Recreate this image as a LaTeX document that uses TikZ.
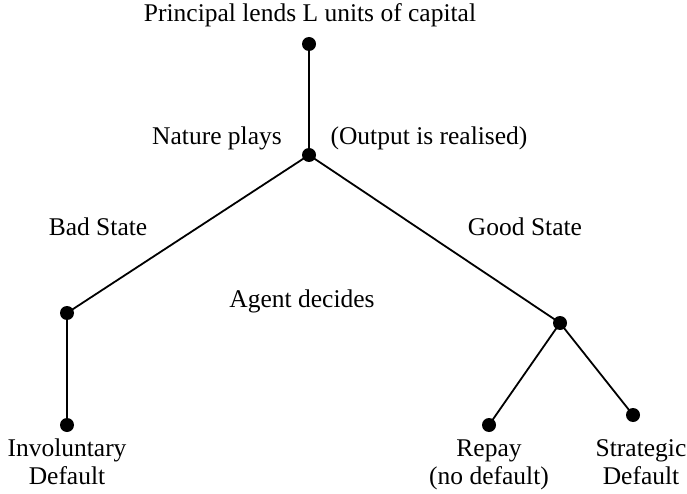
\documentclass[tikz,border=0pt]{standalone}
\usepackage{fontspec}
\setmainfont{Liberation Serif}
\begin{document}
\begin{tikzpicture}[x=1pt,y=-1pt,
  dot/.style={circle,fill=black,inner sep=0pt,minimum size=14pt},
  branch/.style={line width=1.8pt},
  lbl/.style={font=\fontsize{25.5}{27.5}\selectfont,inner sep=0pt,align=center,anchor=base}]
\useasboundingbox (0,0) rectangle (687,494);
% decision nodes
\node[dot] (root) at (309,44) {};
\node[dot] (nature) at (309,155) {};
\node[dot] (bad) at (67,313) {};
\node[dot] (good) at (560,323) {};
\node[dot] (invol) at (67,425) {};
\node[dot] (repay) at (489,425) {};
\node[dot] (strat) at (633,415) {};
% branches
\draw[branch] (root.center) -- (nature.center);
\draw[branch] (nature.center) -- (bad.center);
\draw[branch] (nature.center) -- (good.center);
\draw[branch] (bad.center) -- (invol.center);
\draw[branch] (good.center) -- (repay.center);
\draw[branch] (good.center) -- (strat.center);
% labels (two-line labels are placed by the baseline of their last line)
\node[lbl] (t1) at (310,22) {Principal lends L units of capital};
\node[lbl] (t2) at (217,145) {Nature plays};
\node[lbl] (t3) at (429,145) {(Output is realised)};
\node[lbl] (t4) at (98,236) {Bad State};
\node[lbl] (t5) at (525,236) {Good State};
\node[lbl] (t6) at (302,307) {Agent decides};
\node[lbl] (t7) at (67,484) {Involuntary\\Default};
\node[lbl] (t8) at (489,484) {Repay\\(no default)};
\node[lbl] (t9) at (641,484) {Strategic\\Default};
\end{tikzpicture}
\end{document}
